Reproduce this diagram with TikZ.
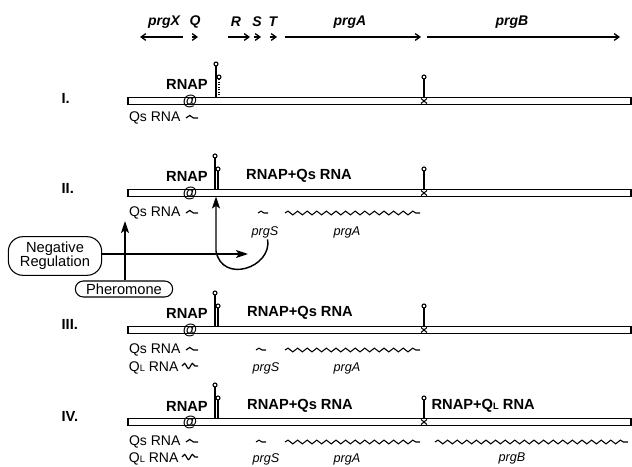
\documentclass[tikz,border=0pt]{standalone}
\usepackage{fontspec}
\setmainfont{Liberation Sans}
\usepackage{tikz}
\usetikzlibrary{arrows.meta,positioning,decorations.pathmorphing}

\begin{document}
\begin{tikzpicture}[x=0.75pt,y=-0.75pt,>={Stealth[length=9pt,width=6pt,inset=2pt]}]
  \tikzstyle{dna}=[draw,line width=0.8pt,minimum width=377.25pt,minimum height=4.8pt,inner sep=0pt]
  \tikzstyle{gene}=[font=\fontsize{10.5}{12}\selectfont\bfseries\itshape,inner sep=1pt]
  \tikzstyle{lbl}=[font=\fontsize{11}{13}\selectfont\bfseries,inner sep=1pt]
  \tikzstyle{pol}=[font=\fontsize{11}{11}\selectfont\bfseries,inner sep=0pt]
  \tikzstyle{rna}=[font=\fontsize{10.5}{12}\selectfont,inner sep=1pt]
  \tikzstyle{orf}=[font=\fontsize{9.5}{11}\selectfont\itshape,inner sep=1pt]
  \tikzstyle{stem}=[line width=0.9pt]
  \tikzstyle{knob}=[line width=0.8pt,fill=white]
  \tikzstyle{genearrow}=[line width=1pt,-{Straight Barb[length=3.5pt,width=5pt]}]
  \tikzstyle{control}=[->,line width=1.1pt]
  \tikzstyle{wave}=[line width=0.8pt,decorate,decoration={snake,segment length=7.2pt,amplitude=1.4pt}]
  \tikzstyle{swave}=[line width=0.9pt,decorate,decoration={snake,segment length=9pt,amplitude=1.9pt}]
  \tikzstyle{lwave}=[line width=0.9pt,decorate,decoration={snake,segment length=6pt,amplitude=1.9pt}]
  \tikzstyle{box}=[draw,line width=0.8pt,align=center,font=\fontsize{11}{12.5}\selectfont]
  \useasboundingbox (0,0) rectangle (632,467);

  % genes along the top
  \node[gene] (prgX) at (164,22) {prgX};
  \node[gene] (Q) at (195,22) {Q};
  \node[gene] (R) at (236,22) {R};
  \node[gene] (S) at (257,22) {S};
  \node[gene] (T) at (273,22) {T};
  \node[gene] (prgA) at (350,22) {prgA};
  \node[gene] (prgB) at (512,22) {prgB};
  \draw[genearrow] (183,37) -- (140,37);
  \draw[genearrow] (192,37) -- (198,37);
  \draw[genearrow] (228,37) -- (250,37);
  \draw[genearrow] (254,37) -- (261,37);
  \draw[genearrow] (270,37) -- (277,37);
  \draw[genearrow] (285,37) -- (421,37);
  \draw[genearrow] (427,37) -- (620,37);

  % I.
  \node[lbl,anchor=west] (row1) at (60,98) {I.};
  \node[dna] (dna1) at (379.5,101) {};
  \node[lbl] (rnap1) at (187,84) {RNAP};
  \node[pol] (pol1) at (190,101) {@};
  \draw[stem] (216,98) -- (216,66);
  \draw[knob] (216,64) circle (2);
  \draw[stem,densely dotted] (219,98) -- (219,79);
  \draw[knob] (219,77) circle (2);
  \draw[stem] (424,98) -- (424,79);
  \draw[knob] (424,77) circle (2);
  \draw[line width=0.8pt] (421,98.5) -- (427,103.5) (421,103.5) -- (427,98.5);
  \node[rna,anchor=east] (qs1) at (182,118) {Qs RNA};
  \draw[swave] (186,118) -- (198,118);

  % II.
  \node[lbl,anchor=west] (row2) at (60,188) {II.};
  \node[dna] (dna2) at (379.5,193) {};
  \node[lbl] (rnap2) at (187,176) {RNAP};
  \node[pol] (pol2) at (190,193) {@};
  \draw[stem] (215,190) -- (215,158);
  \draw[knob] (215,156) circle (2);
  \draw[stem] (218,190) -- (218,171);
  \draw[knob] (218,169) circle (2);
  \draw[stem] (424,190) -- (424,171);
  \draw[knob] (424,169) circle (2);
  \draw[line width=0.8pt] (421,190.5) -- (427,195.5) (421,195.5) -- (427,190.5);
  \node[lbl] (comp2) at (299,176) {RNAP+Qs RNA};
  \node[rna,anchor=east] (qs2) at (182,213) {Qs RNA};
  \draw[swave] (186,213) -- (198,213);
  \draw[wave] (258,213) -- (268,213);
  \draw[wave] (285,213) -- (420,213);
  \node[orf] (prgS2) at (265,232) {prgS};
  \node[orf] (prgA2) at (347,232) {prgA};

  % control by pheromone
  \node[box,rounded corners=11pt,minimum width=70pt,minimum height=29pt] (negreg) at (55,256) {Negative\\[-2pt]Regulation};
  \node[box,rounded corners=6pt,minimum width=73pt,minimum height=12pt,inner sep=1pt] (phero) at (124,289) {Pheromone};
  \coordinate (pherotip) at (125,221);
  \coordinate (negtip) at (248,254);
  \coordinate (loopend) at (216,251);
  \coordinate (bartip) at (216,196.5);
  \draw[control] (phero.north -| pherotip) -- (pherotip);
  \draw[control] (negreg.east |- negtip) -- (negtip);
  \draw[control] ([xshift=2pt]prgS2.south) .. controls (272,268) and (222,284) .. (loopend) -- (bartip);

  % III.
  \node[lbl,anchor=west] (row3) at (60,324) {III.};
  \node[dna] (dna3) at (379.5,330) {};
  \node[lbl] (rnap3) at (187,313) {RNAP};
  \node[pol] (pol3) at (190,330) {@};
  \draw[stem] (215,327) -- (215,295);
  \draw[knob] (215,293) circle (2);
  \draw[stem] (218,327) -- (218,308);
  \draw[knob] (218,306) circle (2);
  \draw[stem] (424,327) -- (424,308);
  \draw[knob] (424,306) circle (2);
  \draw[line width=0.8pt] (421,327.5) -- (427,332.5) (421,332.5) -- (427,327.5);
  \node[lbl] (comp3) at (300,313) {RNAP+Qs RNA};
  \node[rna,anchor=east] (qs3) at (182,350) {Qs RNA};
  \draw[swave] (186,350) -- (198,350);
  \node[rna,anchor=east] (ql3) at (180,368) {Q{\scriptsize L} RNA};
  \draw[lwave] (182,366) -- (198,366);
  \draw[wave] (256,350) -- (266,350);
  \draw[wave] (285,350) -- (420,350);
  \node[orf] (prgS3) at (266,368) {prgS};
  \node[orf] (prgA3) at (347,368) {prgA};

  % IV.
  \node[lbl,anchor=west] (row4) at (60,416) {IV.};
  \node[dna] (dna4) at (379.5,422) {};
  \node[lbl] (rnap4) at (187,406) {RNAP};
  \node[pol] (pol4) at (190,422) {@};
  \draw[stem] (215,419) -- (215,387);
  \draw[knob] (215,385) circle (2);
  \draw[stem] (218,419) -- (218,400);
  \draw[knob] (218,398) circle (2);
  \draw[stem] (424,419) -- (424,400);
  \draw[knob] (424,398) circle (2);
  \draw[line width=0.8pt] (421,419.5) -- (427,424.5) (421,424.5) -- (427,419.5);
  \node[lbl] (comp4) at (300,406) {RNAP+Qs RNA};
  \node[lbl,anchor=west] (compL4) at (430,406) {RNAP+Q{\scriptsize L} RNA};
  \node[rna,anchor=east] (qs4) at (182,442) {Qs RNA};
  \draw[swave] (186,442) -- (198,442);
  \node[rna,anchor=east] (ql4) at (180,459) {Q{\scriptsize L} RNA};
  \draw[lwave] (182,457) -- (198,457);
  \draw[wave] (256,442) -- (266,442);
  \draw[wave] (285,442) -- (420,442);
  \draw[wave] (435,442) -- (628,442);
  \node[orf] (prgS4) at (266,459) {prgS};
  \node[orf] (prgA4) at (347,459) {prgA};
  \node[orf] (prgB4) at (512,458) {prgB};
\end{tikzpicture}
\end{document}
